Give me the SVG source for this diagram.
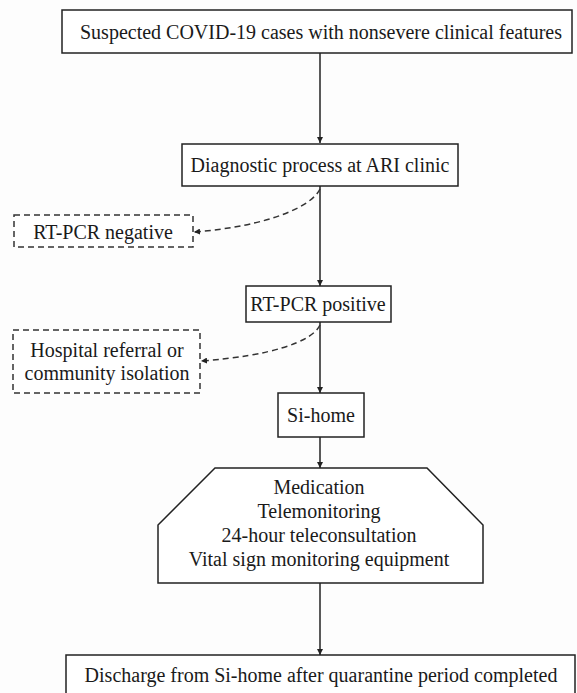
<svg xmlns="http://www.w3.org/2000/svg" width="577" height="693" viewBox="0 0 577 693">
<defs>
<style>
.box{fill:#fff;stroke:#222;stroke-width:1.5}
.dbox{fill:#fff;stroke:#333;stroke-width:1.5;stroke-dasharray:6 4}
.t{font-family:"Liberation Serif","Times New Roman",serif;font-size:20px;fill:#1a1a1a;text-anchor:middle}
.ln{fill:none;stroke:#222;stroke-width:1.5}
.dl{fill:none;stroke:#333;stroke-width:1.5;stroke-dasharray:6 4}
</style>
<marker id="ah" viewBox="0 0 8 8" refX="8" refY="4" markerWidth="6" markerHeight="6" markerUnits="userSpaceOnUse" orient="auto">
<path d="M0,0 L8,4 L0,8 z" fill="#222"/>
</marker>
</defs>
<rect width="577" height="693" fill="#fdfdfd"/>
<g id="connectors">
<line class="ln" x1="320" y1="53" x2="320" y2="143" marker-end="url(#ah)"/>
<line class="ln" x1="320" y1="186" x2="320" y2="286" marker-end="url(#ah)"/>
<line class="ln" x1="320" y1="322" x2="320" y2="393" marker-end="url(#ah)"/>
<line class="ln" x1="320" y1="437" x2="320" y2="468" marker-end="url(#ah)"/>
<line class="ln" x1="320" y1="583" x2="320" y2="655" marker-end="url(#ah)"/>
<path class="dl" d="M320,189 C312,206 270,226 194,232" marker-end="url(#ah)"/>
<path class="dl" d="M320,325 C312,342 270,356 201,361" marker-end="url(#ah)"/>
</g>
<g id="n1">
<rect class="box" x="62" y="10" width="510" height="43"/>
<text class="t" x="321" y="39">Suspected COVID-19 cases with nonsevere clinical features</text>
</g>
<g id="n2">
<rect class="box" x="182" y="144" width="276" height="42"/>
<text class="t" x="320" y="172">Diagnostic process at ARI clinic</text>
</g>
<g id="n3">
<rect class="dbox" x="14" y="215" width="179" height="32"/>
<text class="t" x="103" y="239">RT-PCR negative</text>
</g>
<g id="n4">
<rect class="box" x="246" y="286" width="145" height="36"/>
<text class="t" x="318" y="311">RT-PCR positive</text>
</g>
<g id="n5">
<rect class="dbox" x="13" y="330" width="187" height="63"/>
<text class="t" x="107" y="357">Hospital referral or</text>
<text class="t" x="107" y="380">community isolation</text>
</g>
<g id="n6">
<rect class="box" x="278" y="393" width="86" height="44"/>
<text class="t" x="321" y="422">Si-home</text>
</g>
<g id="n7">
<path class="box" d="M215,468 L427,468 L483,525 L483,583 L158,583 L158,525 Z"/>
<text class="t" x="319" y="494">Medication</text>
<text class="t" x="319" y="518">Telemonitoring</text>
<text class="t" x="319" y="542">24-hour teleconsultation</text>
<text class="t" x="319" y="566">Vital sign monitoring equipment</text>
</g>
<g id="n8">
<rect class="box" x="66" y="655" width="509" height="45"/>
<text class="t" x="321" y="682">Discharge from Si-home after quarantine period completed</text>
</g>
</svg>
